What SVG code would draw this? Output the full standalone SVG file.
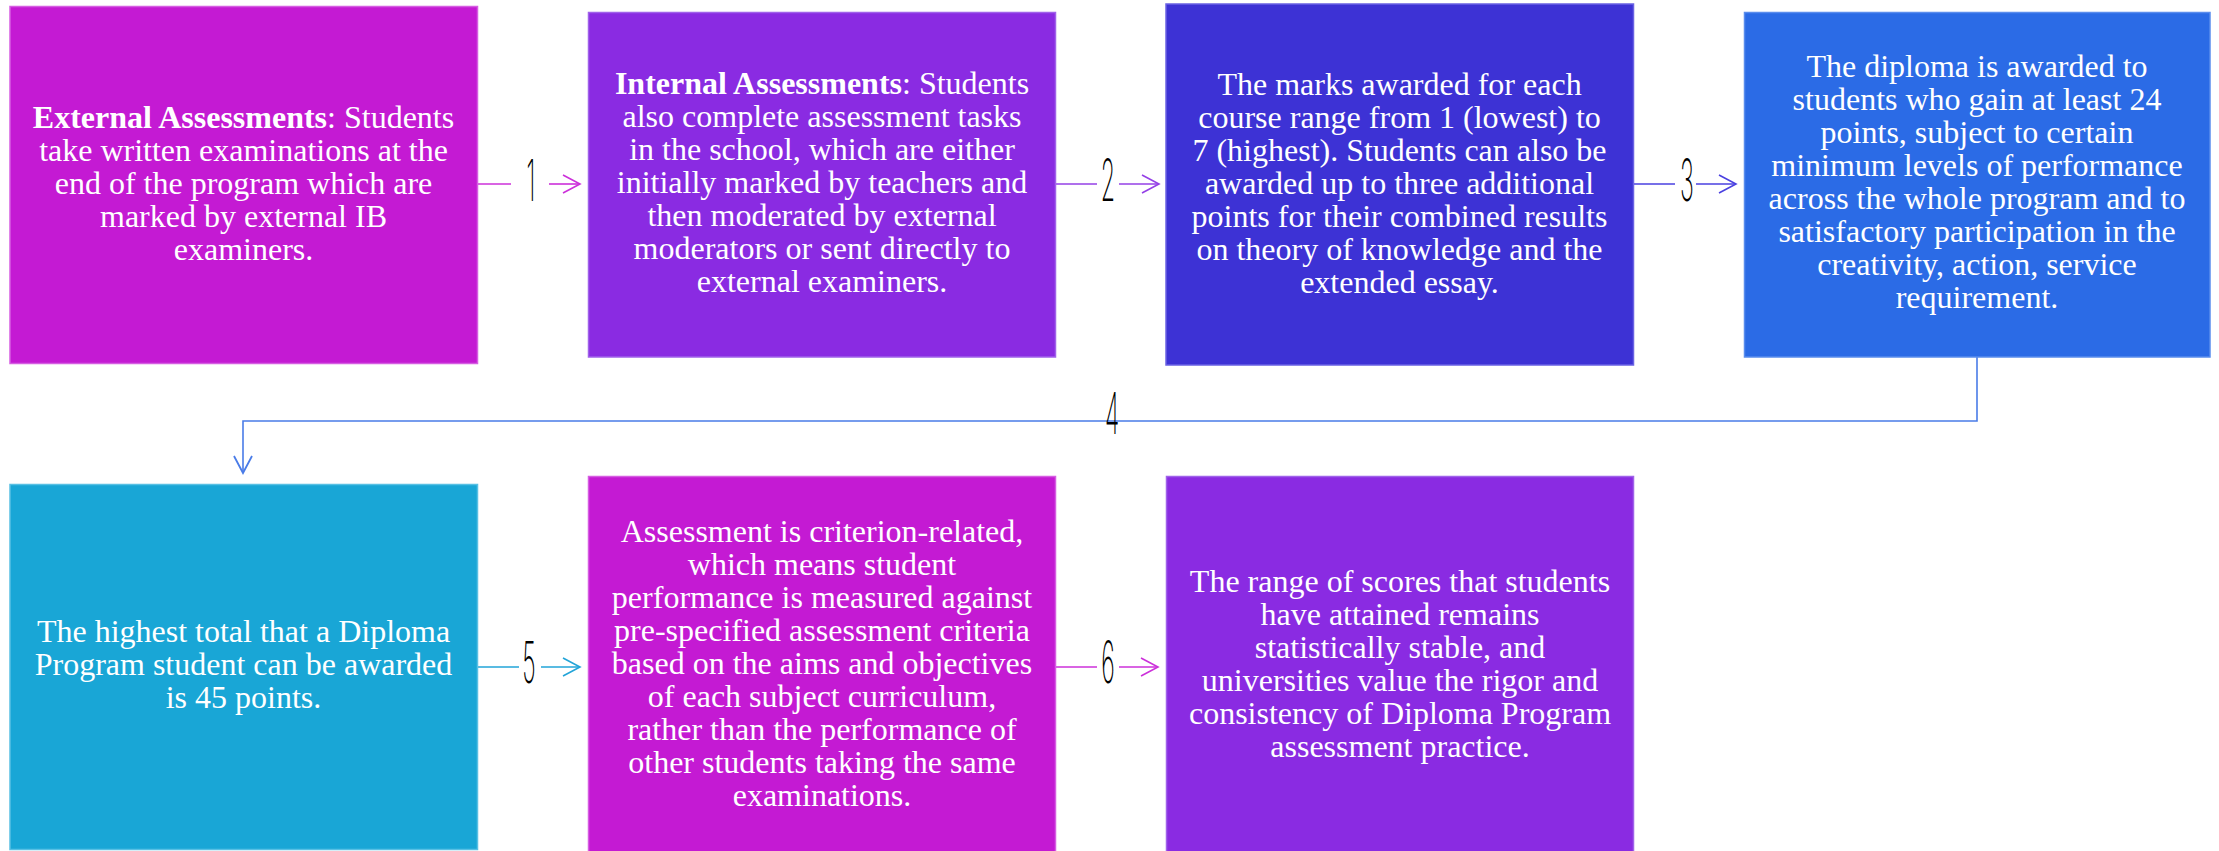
<svg xmlns="http://www.w3.org/2000/svg" width="2219" height="851" viewBox="0 0 2219 851">
<style>
.t{font-family:"Liberation Serif","Times New Roman",serif;font-size:32px;fill:#ffffff;text-anchor:middle}
.b{font-weight:bold}
.lbl{font-family:Inter,"DejaVu Sans",sans-serif;font-weight:200;font-size:58px;fill:#000000;text-anchor:middle}
.c{fill:none;stroke-width:1.6}
.n1{fill:#C41AD3;stroke:#D65DE2;stroke-width:1.5}
.n2{fill:#8A2BE2;stroke:#A062EA;stroke-width:1.5}
.n3{fill:#3D32D5;stroke:#6A62E4;stroke-width:1.5}
.n4{fill:#2B6BE6;stroke:#5A8DED;stroke-width:1.5}
.n5{fill:#19A6D6;stroke:#58C0E4;stroke-width:1.5}
</style>
<defs>
<marker id="am" viewBox="-19 -11 21 22" refX="0" refY="0" markerWidth="21" markerHeight="22" markerUnits="userSpaceOnUse" orient="auto"><path d="M-17,-9 L0,0 L-17,9" fill="none" stroke="#CC30DA" stroke-width="1.6"/></marker>
<marker id="ap" viewBox="-19 -11 21 22" refX="0" refY="0" markerWidth="21" markerHeight="22" markerUnits="userSpaceOnUse" orient="auto"><path d="M-17,-9 L0,0 L-17,9" fill="none" stroke="#9440E6" stroke-width="1.6"/></marker>
<marker id="ab" viewBox="-19 -11 21 22" refX="0" refY="0" markerWidth="21" markerHeight="22" markerUnits="userSpaceOnUse" orient="auto"><path d="M-17,-9 L0,0 L-17,9" fill="none" stroke="#4A40E0" stroke-width="1.6"/></marker>
<marker id="al" viewBox="-19 -11 21 22" refX="0" refY="0" markerWidth="21" markerHeight="22" markerUnits="userSpaceOnUse" orient="auto"><path d="M-17,-9 L0,0 L-17,9" fill="none" stroke="#4A7CE8" stroke-width="1.8"/></marker>
<marker id="ac" viewBox="-19 -11 21 22" refX="0" refY="0" markerWidth="21" markerHeight="22" markerUnits="userSpaceOnUse" orient="auto"><path d="M-17,-9 L0,0 L-17,9" fill="none" stroke="#22A4D8" stroke-width="1.6"/></marker>
</defs>
<rect width="2219" height="851" fill="#ffffff"/>

<g id="connectors">
<g id="c1"><path class="c" stroke="#CC30DA" d="M478,184 H511"/><path class="c" stroke="#CC30DA" d="M549,184 H580" marker-end="url(#am)"/><text class="lbl" transform="translate(531,201) scale(0.4,1)">1</text></g>
<g id="c2"><path class="c" stroke="#9440E6" d="M1056,184 H1097"/><path class="c" stroke="#9440E6" d="M1119,184 H1159" marker-end="url(#ap)"/><text class="lbl" transform="translate(1108,201) scale(0.4,1)">2</text></g>
<g id="c3"><path class="c" stroke="#4A40E0" d="M1634,184 H1675"/><path class="c" stroke="#4A40E0" d="M1696,184 H1736" marker-end="url(#ab)"/><text class="lbl" transform="translate(1687,201) scale(0.4,1)">3</text></g>
<g id="c4"><path class="c" stroke="#4A7CE8" stroke-width="2" d="M1977,357 V421 H243 V473" marker-end="url(#al)"/><text class="lbl" transform="translate(1112,434) scale(0.4,1)">4</text></g>
<g id="c5"><path class="c" stroke="#22A4D8" d="M478,667 H519"/><path class="c" stroke="#22A4D8" d="M541,667 H580" marker-end="url(#ac)"/><text class="lbl" transform="translate(529,683) scale(0.4,1)">5</text></g>
<g id="c6"><path class="c" stroke="#CC30DA" d="M1056,667 H1097"/><path class="c" stroke="#CC30DA" d="M1119,667 H1158" marker-end="url(#am)"/><text class="lbl" transform="translate(1108,683) scale(0.4,1)">6</text></g>
</g>

<g id="node1">
<rect class="n1" x="10" y="6.5" width="467.5" height="357"/>
<text class="t" x="243.5" y="128"><tspan class="b">External Assessments</tspan>: Students</text>
<text class="t" x="243.5" y="161">take written examinations at the</text>
<text class="t" x="243.5" y="194">end of the program which are</text>
<text class="t" x="243.5" y="227">marked by external IB</text>
<text class="t" x="243.5" y="260">examiners.</text>
</g>

<g id="node2">
<rect class="n2" x="588.5" y="12.5" width="467" height="344.5"/>
<text class="t" x="822" y="94"><tspan class="b">Internal Assessments</tspan>: Students</text>
<text class="t" x="822" y="127">also complete assessment tasks</text>
<text class="t" x="822" y="160">in the school, which are either</text>
<text class="t" x="822" y="193">initially marked by teachers and</text>
<text class="t" x="822" y="226">then moderated by external</text>
<text class="t" x="822" y="259">moderators or sent directly to</text>
<text class="t" x="822" y="292">external examiners.</text>
</g>

<g id="node3">
<rect class="n3" x="1166" y="4" width="467.5" height="361"/>
<text class="t" x="1399.5" y="95">The marks awarded for each</text>
<text class="t" x="1399.5" y="128">course range from 1 (lowest) to</text>
<text class="t" x="1399.5" y="161">7 (highest). Students can also be</text>
<text class="t" x="1399.5" y="194">awarded up to three additional</text>
<text class="t" x="1399.5" y="227">points for their combined results</text>
<text class="t" x="1399.5" y="260">on theory of knowledge and the</text>
<text class="t" x="1399.5" y="293">extended essay.</text>
</g>

<g id="node4">
<rect class="n4" x="1744.5" y="12.5" width="465.5" height="344.5"/>
<text class="t" x="1977" y="77">The diploma is awarded to</text>
<text class="t" x="1977" y="110">students who gain at least 24</text>
<text class="t" x="1977" y="143">points, subject to certain</text>
<text class="t" x="1977" y="176">minimum levels of performance</text>
<text class="t" x="1977" y="209">across the whole program and to</text>
<text class="t" x="1977" y="242">satisfactory participation in the</text>
<text class="t" x="1977" y="275">creativity, action, service</text>
<text class="t" x="1977" y="308">requirement.</text>
</g>

<g id="node5">
<rect class="n5" x="10" y="484.5" width="467.5" height="365"/>
<text class="t" x="243.5" y="642">The highest total that a Diploma</text>
<text class="t" x="243.5" y="675">Program student can be awarded</text>
<text class="t" x="243.5" y="708">is 45 points.</text>
</g>

<g id="node6">
<rect class="n1" x="588.5" y="476.5" width="467" height="385"/>
<text class="t" x="822" y="542">Assessment is criterion-related,</text>
<text class="t" x="822" y="575">which means student</text>
<text class="t" x="822" y="608">performance is measured against</text>
<text class="t" x="822" y="641">pre-specified assessment criteria</text>
<text class="t" x="822" y="674">based on the aims and objectives</text>
<text class="t" x="822" y="707">of each subject curriculum,</text>
<text class="t" x="822" y="740">rather than the performance of</text>
<text class="t" x="822" y="773">other students taking the same</text>
<text class="t" x="822" y="806">examinations.</text>
</g>

<g id="node7">
<rect class="n2" x="1166.5" y="476.5" width="467" height="385"/>
<text class="t" x="1400" y="592">The range of scores that students</text>
<text class="t" x="1400" y="625">have attained remains</text>
<text class="t" x="1400" y="658">statistically stable, and</text>
<text class="t" x="1400" y="691">universities value the rigor and</text>
<text class="t" x="1400" y="724">consistency of Diploma Program</text>
<text class="t" x="1400" y="757">assessment practice.</text>
</g>
</svg>
